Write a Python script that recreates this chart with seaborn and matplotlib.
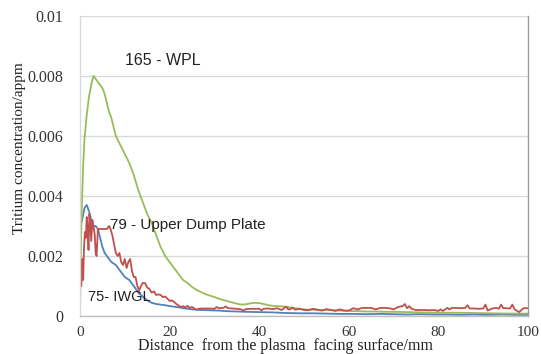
import matplotlib
matplotlib.use("Agg")
import matplotlib.pyplot as plt
import seaborn as sns
import pandas as pd

# ---- data ----
green_x = [0, 0.2, 0.4, 0.7, 1.0, 1.5, 2.0, 2.5, 3.0, 3.5, 4.0, 4.5, 5.0, 5.5, 6.0, 6.5, 7.0,
           7.5, 8.0, 9.0, 10.0, 11.0, 12.0, 13.0, 14.0, 15.0, 16.0, 17.0, 18.0, 19.0, 20.0,
           21.0, 22.0, 23.0, 24.0, 25.0, 26.0, 27.0, 28.0, 29.0, 30.0, 31.0, 32.0, 33.0, 34.0,
           35.0, 36.0, 37.0, 38.0, 39.0, 40.0, 41, 42, 43, 44, 45, 46, 48, 50, 52, 54, 56, 58,
           60, 62, 64, 66, 68, 70, 73, 76, 80, 84, 88, 92, 96, 100]
green_y = [0, 0.0022, 0.0036, 0.0050, 0.0059, 0.0067, 0.0073, 0.0077, 0.0080, 0.0079, 0.0078,
           0.0077, 0.0076, 0.0074, 0.0071, 0.0068, 0.0066, 0.0063, 0.0060, 0.0057, 0.0054,
           0.0051, 0.0047, 0.0042, 0.0038, 0.0034, 0.0031, 0.0027, 0.0023, 0.0020, 0.0018,
           0.0016, 0.0014, 0.0012, 0.0011, 0.00097, 0.00087, 0.00080, 0.00073, 0.00068,
           0.00063, 0.00058, 0.00053, 0.00049, 0.00045, 0.00041, 0.00038, 0.00039, 0.00042,
           0.00044, 0.00043, 0.00040, 0.00036, 0.00034, 0.00033, 0.00032, 0.00031, 0.00026,
           0.00022, 0.00021, 0.00020, 0.00020, 0.00018, 0.00017, 0.00016, 0.00015, 0.00015,
           0.00014, 0.00014, 0.00013, 0.00012, 0.00011, 0.00011, 0.00010, 0.00009, 0.00008,
           0.00008]

blue_x = [0.3, 0.6, 1.0, 1.5, 2.0, 2.5, 3.0, 3.5, 4.0, 4.5, 5.0, 5.5, 6.0, 6.5, 7.0, 8.0, 9.0,
          10.0, 11.0, 12.0, 13.0, 14.0, 15.0, 16.0, 17.0, 18.0, 19.0, 20.0, 21, 22, 23, 24, 25,
          27, 29, 31, 33, 35, 37, 40, 43, 46, 49, 52, 55, 58, 61, 64, 67, 70, 73, 76, 79, 82,
          85, 88, 91, 94, 97, 100]
blue_y = [0.0031, 0.0033, 0.0036, 0.0037, 0.0035, 0.0032, 0.0030, 0.0030, 0.0029, 0.0026,
          0.0023, 0.0021, 0.0020, 0.0019, 0.0018, 0.0017, 0.0015, 0.0013, 0.0012, 0.0010,
          0.00078, 0.00065, 0.00052, 0.00044, 0.00040, 0.00038, 0.00036, 0.00033, 0.00031,
          0.00029, 0.00026, 0.00024, 0.00022, 0.00020, 0.00019, 0.00018, 0.00016, 0.00015,
          0.00014, 0.00013, 0.00012, 0.00010, 0.00009, 0.00009, 0.00008, 0.00007, 0.00007,
          0.00006, 0.00007, 0.00006, 0.00005, 0.00006, 0.00005, 0.00005, 0.00004, 0.00005,
          0.00004, 0.00005, 0.00004, 0.00004]

red_x = [0.3, 0.5, 0.7, 0.9, 1.1, 1.3, 1.5, 1.7, 1.9, 2.1, 2.3, 2.5, 2.8, 3.0, 3.3, 3.5, 3.7,
         4.0, 4.5, 5.0, 5.5, 6.0, 6.5, 6.8, 7.2, 7.6, 8.0, 8.4, 8.8, 9.2, 9.6, 10.0, 10.4,
         10.8, 11.2, 11.6, 12.0, 12.4, 12.8, 13.2, 13.6, 14.0, 14.5, 15.0, 15.5, 16.0, 16.5,
         17.0, 17.5, 18.0, 18.5, 19.0, 19.5, 20.0, 20.5, 21.0, 21.5, 22, 22.5, 23, 23.5, 24,
         24.5, 25, 25.5, 26, 26.5, 27, 28, 29, 30, 30.5, 31, 32, 32.5, 33, 34, 35, 36, 36.5,
         37, 38, 39, 40, 40.5, 41, 42, 43, 44, 45, 46, 46.5, 47, 47.5, 48, 49, 50, 51, 52, 53,
         54, 55, 56, 57, 58, 59, 60, 61, 62, 63, 64, 65, 66, 67, 68, 69, 70, 71, 72, 72.5, 73,
         73.5, 74, 75, 76, 77, 78, 79, 80, 80.5, 81, 82, 82.5, 83, 84, 85, 86, 86.5, 87, 88,
         89, 90, 90.5, 91, 92, 93, 93.5, 94, 94.5, 95, 96, 96.5, 97, 98, 99, 100]
red_y = [0.0010, 0.0019, 0.0012, 0.0023, 0.0028, 0.0026, 0.0033, 0.0029, 0.0022, 0.0034,
         0.0031, 0.0025, 0.0032, 0.0030, 0.0027, 0.0021, 0.0020, 0.0029, 0.0029, 0.0029,
         0.0029, 0.0029, 0.0030, 0.0029, 0.0027, 0.0024, 0.0021, 0.0020, 0.0021, 0.0018,
         0.0017, 0.0019, 0.0016, 0.0018, 0.0019, 0.0015, 0.0013, 0.0013, 0.0010, 0.00085,
         0.0010, 0.0011, 0.0011, 0.00095, 0.0009, 0.00078, 0.00082, 0.00070, 0.00072,
         0.00070, 0.00063, 0.00065, 0.00058, 0.00050, 0.00052, 0.00047, 0.00040, 0.00035,
         0.00030, 0.00033, 0.00028, 0.00034, 0.00027, 0.00030, 0.00025, 0.00021, 0.00024,
         0.00025, 0.00025, 0.00025, 0.00024, 0.00030, 0.00026, 0.00027, 0.00032, 0.00026,
         0.00025, 0.00024, 0.00022, 0.00018, 0.00023, 0.00024, 0.00024, 0.00024, 0.00019,
         0.00024, 0.00025, 0.00023, 0.00026, 0.00020, 0.00031, 0.00022, 0.00023, 0.00028,
         0.00021, 0.00024, 0.00020, 0.00019, 0.00024, 0.00021, 0.00018, 0.00023, 0.00020,
         0.00017, 0.00022, 0.00018, 0.00018, 0.00026, 0.00022, 0.00027, 0.00027, 0.00027,
         0.00022, 0.00027, 0.00027, 0.00026, 0.00022, 0.00030, 0.00033, 0.00040, 0.00026,
         0.00033, 0.00024, 0.00020, 0.00020, 0.00020, 0.00019, 0.00020, 0.00017, 0.00022,
         0.00017, 0.00027, 0.00022, 0.00027, 0.00027, 0.00026, 0.00027, 0.00036, 0.00025,
         0.00025, 0.00024, 0.00025, 0.00038, 0.00018, 0.00025, 0.00027, 0.00024, 0.00038,
         0.00026, 0.00026, 0.00025, 0.00038, 0.00022, 0.00013, 0.00026, 0.00026]

series_labels = ["165 - WPL", "79 - Upper Dump Plate", "75- IWGL"]
x_ticks = [0, 20, 40, 60, 80, 100]
y_ticks = [0, 0.002, 0.004, 0.006, 0.008, 0.01]
y_tick_labels = ["0", "0.002", "0.004", "0.006", "0.008", "0.01"]

df = pd.concat([
    pd.DataFrame({"x": blue_x, "y": blue_y, "s": series_labels[2]}),
    pd.DataFrame({"x": green_x, "y": green_y, "s": series_labels[0]}),
    pd.DataFrame({"x": red_x, "y": red_y, "s": series_labels[1]}),
], ignore_index=True)

palette = {series_labels[0]: "#9bbb59", series_labels[1]: "#c0504d", series_labels[2]: "#4f81bd"}

sns.set_style("white")
plt.rcParams["font.family"] = ["Liberation Serif", "DejaVu Serif"]

fig = plt.figure(figsize=(5.41, 3.54), dpi=100)
ax = fig.add_axes([80 / 541, 1 - 316 / 354, 448 / 541, 300 / 354])

sns.lineplot(data=df, x="x", y="y", hue="s", palette=palette, ax=ax,
             linewidth=1.3, legend=False, sort=False, estimator=None)

ax.set_xlim(0, 100)
ax.set_ylim(0, 0.01)
ax.set_xticks(x_ticks)
ax.set_yticks(y_ticks)
ax.set_yticklabels(y_tick_labels)
ax.yaxis.grid(True, color="#d9d9d9", linewidth=1.0)
ax.set_axisbelow(True)

ax.spines["top"].set_visible(False)
ax.spines["left"].set_color("#d9d9d9")
ax.spines["bottom"].set_color("#bfbfbf")
ax.spines["right"].set_color("#9a9a9a")
for s in ["left", "bottom", "right"]:
    ax.spines[s].set_linewidth(1.0)

ax.tick_params(axis="both", colors="#333333", length=4, width=1.0, direction="out")
ax.tick_params(axis="y", labelsize=11.5, color="#d9d9d9", pad=8)
ax.tick_params(axis="x", labelsize=11, color="#bfbfbf", pad=3)
for lbl in ax.get_xticklabels() + ax.get_yticklabels():
    lbl.set_color("#333333")

ax.set_xlabel("Distance  from the plasma  facing surface/mm", fontsize=11.5, color="#222222")
ax.set_ylabel("Tritium concentration/appm", fontsize=11, color="#222222")
ax.xaxis.set_label_coords((286 - 80) / 448, -(346 - 316) / 300)
ax.yaxis.set_label_coords(-(80 - 19) / 448, (316 - 148) / 300)
ax.xaxis.label.set_va("center")
ax.yaxis.label.set_va("center")

ann_font = ["Liberation Sans", "DejaVu Sans"]
ax.text(10.0, 0.00853, series_labels[0], fontsize=11.5, family=ann_font, color="#222222",
        ha="left", va="center")
ax.text(6.7, 0.00303, series_labels[1], fontsize=11, family=ann_font, color="#222222",
        ha="left", va="center")
ax.text(1.8, 0.00063, series_labels[2], fontsize=10.5, family=ann_font, color="#222222",
        ha="left", va="center")

fig.savefig("out.png", dpi=100)
